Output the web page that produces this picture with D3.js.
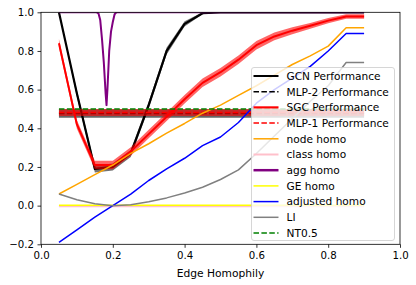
<!DOCTYPE html>
<html>
<head>
<meta charset="utf-8">
<script src="https://cdn.jsdelivr.net/npm/d3@7"></script>
<style>
  body { margin: 0; background: #fff; }
  text { font-family: "DejaVu Sans", sans-serif; }
</style>
</head>
<body>
<div id="chart"></div>
<script>
// Edge homophily sample points
const edgeHomo = [0.05, 0.1, 0.15, 0.2, 0.25, 0.3, 0.35, 0.4, 0.45, 0.5, 0.55, 0.6, 0.65, 0.7, 0.75, 0.8, 0.85, 0.9];

// Performance curves (mean and std)
const gcnPerf = [1.0, 0.58, 0.19, 0.2, 0.27, 0.52, 0.8, 0.94, 0.995, 1.0, 1.0, 1.0, 1.0, 1.0, 1.0, 1.0, 1.0, 1.0];
const gcnStd  = [0.0, 0.018, 0.018, 0.018, 0.018, 0.018, 0.018, 0.014, 0.005, 0, 0, 0, 0, 0, 0, 0, 0, 0];
const sgcPerf = [0.84, 0.42, 0.21, 0.21, 0.28, 0.37, 0.46, 0.55, 0.635, 0.69, 0.755, 0.83, 0.875, 0.905, 0.93, 0.957, 0.978, 0.978];
const sgcStd  = [0.022, 0.022, 0.022, 0.022, 0.022, 0.022, 0.022, 0.022, 0.022, 0.022, 0.022, 0.022, 0.02, 0.018, 0.015, 0.013, 0.012, 0.012];
const mlp2Perf = 0.477, mlp2Std = 0.022;
const mlp1Perf = 0.482, mlp1Std = 0.018;
const ntThreshold = 0.5;

// Homophily measures
const nodeHomo     = [0.06, 0.11, 0.16, 0.21, 0.27, 0.32, 0.375, 0.425, 0.478, 0.52, 0.57, 0.62, 0.675, 0.73, 0.775, 0.825, 0.92, 0.92];
const classHomo    = [-0.003, -0.003, -0.003, -0.003, -0.003, -0.003, -0.003, -0.003, -0.003, -0.003, -0.003, -0.003, -0.003, -0.003, -0.003, -0.003, -0.003, -0.003];
const geHomo       = [0.002, 0.002, 0.002, 0.002, 0.002, 0.002, 0.002, 0.002, 0.002, 0.002, 0.002, 0.002, 0.002, 0.002, 0.002, 0.002, 0.002, 0.002];
const adjustedHomo = [-0.19, -0.125, -0.06, 0.0, 0.06, 0.13, 0.19, 0.245, 0.31, 0.355, 0.43, 0.53, 0.6, 0.66, 0.72, 0.8, 0.89, 0.89];
const liHomo       = [0.06, 0.03, 0.01, 0.0, 0.005, 0.02, 0.04, 0.065, 0.095, 0.135, 0.185, 0.27, 0.36, 0.45, 0.54, 0.62, 0.74, 0.74];

// agg homo is sampled more densely around its dip
const aggX    = [0.05, 0.155, 0.16, 0.165, 0.17, 0.175, 0.18, 0.1825, 0.185, 0.19, 0.195, 0.2, 0.205, 0.21, 0.9];
const aggHomo = [1.0, 1.0, 0.995, 0.96, 0.86, 0.74, 0.58, 0.52, 0.6, 0.8, 0.9, 0.95, 0.99, 1.0, 1.0];
const aggStd  = [0, 0, 0.004, 0.012, 0.015, 0.015, 0.015, 0.015, 0.015, 0.015, 0.012, 0.008, 0.004, 0, 0];

const xTicks = [0, 0.2, 0.4, 0.6, 0.8, 1.0];
const yTicks = [-0.2, 0, 0.2, 0.4, 0.6, 0.8, 1.0];
const xLabel = "Edge Homophily";

const legendItems = [
  { label: "GCN Performance", color: "#000000", dash: null, width: 2 },
  { label: "MLP-2 Performance", color: "#000000", dash: "5.5,2.4", width: 1.5 },
  { label: "SGC Performance", color: "#ff0000", dash: null, width: 2.2 },
  { label: "MLP-1 Performance", color: "#ff0000", dash: "5.5,2.4", width: 1.5 },
  { label: "node homo", color: "#ffa500", dash: null, width: 1.5 },
  { label: "class homo", color: "#ffc0cb", dash: null, width: 2 },
  { label: "agg homo", color: "#800080", dash: null, width: 2.5 },
  { label: "GE homo", color: "#ffff00", dash: null, width: 1.5 },
  { label: "adjusted homo", color: "#0000ff", dash: null, width: 1.5 },
  { label: "LI", color: "#808080", dash: null, width: 1.5 },
  { label: "NT0.5", color: "#008000", dash: "5.5,2.4", width: 1.5 }
];

const W = 416, H = 285;
const plot = { left: 41, right: 400, top: 12.3, bottom: 244.3 };

const svg = d3.select("#chart").append("svg")
  .attr("width", W)
  .attr("height", H);

const x = d3.scaleLinear().domain([0, 1]).range([plot.left, plot.right]);
const y = d3.scaleLinear().domain([-0.2, 1]).range([plot.bottom, plot.top]);

svg.append("defs").append("clipPath").attr("id", "clip")
  .append("rect")
  .attr("x", plot.left).attr("y", plot.top)
  .attr("width", plot.right - plot.left).attr("height", plot.bottom - plot.top);

const g = svg.append("g").attr("clip-path", "url(#clip)");

const line = d3.line().x(d => x(d[0])).y(d => y(d[1]));
const area = d3.area().x(d => x(d[0])).y0(d => y(d[1])).y1(d => y(d[2]));

function drawLine(xs, ys, color, width, dash) {
  g.append("path")
    .datum(xs.map((v, i) => [v, ys[i]]))
    .attr("d", line)
    .attr("fill", "none")
    .attr("stroke", color)
    .attr("stroke-width", width)
    .attr("stroke-dasharray", dash)
    .attr("stroke-linejoin", "round");
}

function drawBand(xs, ys, sd, color, alpha) {
  g.append("path")
    .datum(xs.map((v, i) => [v, ys[i] - sd[i], ys[i] + sd[i]]))
    .attr("d", area)
    .attr("fill", color)
    .attr("fill-opacity", alpha);
}

const flat = v => edgeHomo.map(() => v);
const ends = [edgeHomo[0], edgeHomo[edgeHomo.length - 1]];

// GCN
drawLine(edgeHomo, gcnPerf, "#000", 2.2);
drawBand(edgeHomo, gcnPerf, gcnStd, "#000", 0.55);
// MLP-2
drawLine(ends, [mlp2Perf, mlp2Perf], "#000", 1.5, "5.5,2.4");
drawBand(ends, [mlp2Perf, mlp2Perf], [mlp2Std, mlp2Std], "#000", 0.6);
// SGC
drawLine(edgeHomo, sgcPerf, "#ff0000", 2);
drawBand(edgeHomo, sgcPerf, sgcStd, "#ff0000", 0.6);
// MLP-1
drawLine(ends, [mlp1Perf, mlp1Perf], "#ff0000", 1.5, "5.5,2.4");
drawBand(ends, [mlp1Perf, mlp1Perf], [mlp1Std, mlp1Std], "#ff0000", 0.6);

// homophily measures
drawLine(edgeHomo, nodeHomo, "#ffa500", 1.5);
drawLine(edgeHomo, classHomo, "#ffc0cb", 2);
drawBand(aggX, aggHomo, aggStd, "#800080", 0.3);
drawLine(aggX, aggHomo, "#800080", 2);
drawLine(edgeHomo, geHomo, "#ffff00", 1.5);
drawLine(edgeHomo, adjustedHomo, "#0000ff", 1.5);
drawLine(edgeHomo, liHomo, "#808080", 1.5);
drawLine(edgeHomo, flat(ntThreshold), "#008000", 1.5, "5.5,2.4");

// axes
const xAxis = svg.append("g")
  .attr("transform", "translate(0," + plot.bottom + ")")
  .call(d3.axisBottom(x).tickValues(xTicks).tickFormat(d3.format(".1f")).tickSize(3.5).tickPadding(3.5).tickSizeOuter(0));
const yAxis = svg.append("g")
  .attr("transform", "translate(" + plot.left + ",0)")
  .call(d3.axisLeft(y).tickValues(yTicks).tickFormat(d3.format(".1f")).tickSize(3.5).tickPadding(3.5).tickSizeOuter(0));

[xAxis, yAxis].forEach(a => {
  a.select(".domain").remove();
  a.selectAll("line").attr("stroke", "#000").attr("stroke-width", 0.8);
  a.selectAll("text").attr("font-size", 10.2).attr("fill", "#000")
    .style("font-family", "'DejaVu Sans', sans-serif");
});

// frame
svg.append("rect")
  .attr("x", plot.left).attr("y", plot.top)
  .attr("width", plot.right - plot.left).attr("height", plot.bottom - plot.top)
  .attr("fill", "none").attr("stroke", "#000").attr("stroke-width", 0.8);

svg.append("text")
  .attr("x", (plot.left + plot.right) / 2)
  .attr("y", 276.5)
  .attr("text-anchor", "middle")
  .attr("font-size", 10.7)
  .text(xLabel);

// legend
const legend = svg.append("g");
legend.append("rect")
  .attr("x", 251.5).attr("y", 67.5)
  .attr("width", 143).attr("height", 173)
  .attr("rx", 2.5)
  .attr("fill", "#fff").attr("fill-opacity", 0.8)
  .attr("stroke", "#cccccc").attr("stroke-width", 0.8);

legendItems.forEach((d, i) => {
  const yy = 76 + i * 15.7;
  legend.append("line")
    .attr("x1", 253.5).attr("x2", 278.5)
    .attr("y1", yy).attr("y2", yy)
    .attr("stroke", d.color)
    .attr("stroke-width", d.width)
    .attr("stroke-dasharray", d.dash);
  legend.append("text")
    .attr("x", 286.5).attr("y", yy + 3.8)
    .attr("font-size", 10.6)
    .text(d.label);
});
</script>
</body>
</html>
